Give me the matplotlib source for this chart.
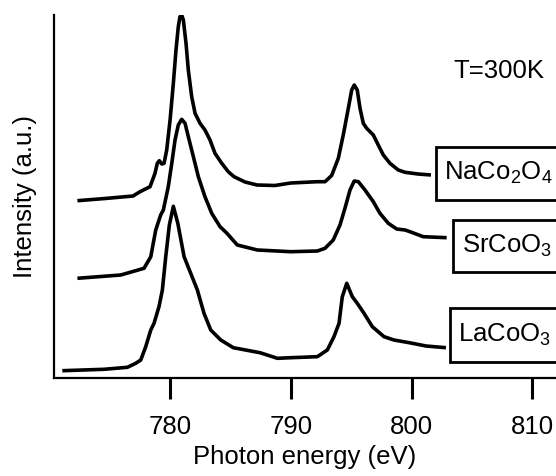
import matplotlib
matplotlib.use('Agg')
import matplotlib.pyplot as plt
from matplotlib.patches import Rectangle

plt.rcParams['font.family'] = ['Liberation Sans', 'DejaVu Sans']
plt.rcParams['mathtext.fontset'] = 'custom'
plt.rcParams['mathtext.rm'] = 'Liberation Sans'
plt.rcParams['mathtext.default'] = 'regular'

# Spectra (photon energy in eV, intensity in arbitrary units incl. offset)
na_energy = [772.30, 774.59, 776.91, 777.49, 778.32, 778.73, 778.92, 779.09, 779.29, 779.48,
             779.70, 779.98, 780.25, 780.47, 780.66, 780.80, 780.94, 781.08, 781.30, 781.49,
             781.77, 782.05, 782.46, 782.87, 783.29, 783.70, 784.26, 784.80, 785.28, 786.19,
             787.18, 788.67, 789.98, 792.18, 792.82, 793.37, 793.92, 794.33, 794.75, 795.03,
             795.24, 795.49, 795.72, 795.99, 796.27, 796.82, 797.23, 797.65, 798.20, 798.89,
             799.45, 800.52, 801.60]
na_intensity = [177.3, 179.5, 182.0, 186.3, 191.3, 204.7, 214.7, 217.3, 214.0, 214.7,
                228.0, 258.0, 294.7, 328.0, 351.3, 361.3, 363.0, 358.0, 334.7, 308.0,
                281.3, 264.7, 254.7, 248.0, 238.0, 224.7, 214.7, 206.3, 201.3, 196.0,
                193.0, 192.5, 195.0, 196.3, 196.3, 202.5, 219.7, 243.0, 269.7, 288.0,
                293.0, 288.0, 269.7, 254.7, 249.7, 243.0, 233.0, 223.0, 214.7, 208.0,
                205.7, 204.0, 203.0]

sr_energy = [772.30, 775.89, 777.82, 778.38, 778.79, 779.20, 779.42, 779.83, 780.12, 780.39,
             780.66, 780.94, 781.22, 781.49, 781.91, 782.32, 782.87, 783.43, 784.12, 784.67,
             785.55, 787.21, 789.98, 792.18, 792.82, 793.50, 794.06, 794.47, 794.89, 795.24,
             795.58, 796.13, 796.82, 797.37, 798.06, 798.76, 799.45, 799.86, 800.96, 802.90]
sr_intensity = [99.7, 103.0, 109.7, 121.3, 148.0, 163.0, 168.0, 191.3, 214.7, 238.0,
                253.0, 258.7, 254.7, 241.3, 221.3, 201.3, 181.3, 164.7, 151.3, 145.0,
                133.0, 128.0, 126.3, 127.0, 129.7, 138.0, 153.0, 169.7, 188.0, 197.0,
                196.3, 188.0, 176.3, 164.7, 154.7, 149.0, 148.0, 146.3, 141.3, 140.3]

la_energy = [771.05, 774.51, 776.44, 777.13, 777.55, 777.96, 778.38, 778.65, 779.06, 779.34,
             779.62, 779.92, 780.25, 780.62, 781.14, 781.69, 782.24, 782.79, 783.35, 784.18,
             785.22, 787.43, 788.87, 789.98, 792.18, 793.01, 793.56, 793.98, 794.25, 794.62,
             795.08, 795.49, 796.05, 796.74, 797.71, 798.53, 799.80, 801.19, 802.84]
la_intensity = [7.3, 8.7, 10.7, 14.7, 18.0, 31.3, 48.0, 54.7, 71.3, 88.0,
                121.3, 153.0, 171.7, 154.7, 121.3, 104.7, 88.0, 64.7, 48.0, 38.0,
                30.3, 25.3, 19.7, 20.3, 21.3, 28.0, 41.3, 54.7, 81.3, 94.7,
                81.3, 74.7, 64.7, 51.3, 41.3, 38.0, 35.3, 32.0, 30.3]

labels = ['NaCo$_2$O$_4$', 'SrCoO$_3$', 'LaCoO$_3$']
label_x = [802.68, 804.14, 803.86]
label_y = [204.7, 132.2, 43.0]
box_left = [802.01, 803.45, 803.17]
box_bottom = [178.0, 106.3, 16.3]
box_top = [231.3, 158.0, 69.7]
xticks = [780, 790, 800, 810]

fig = plt.figure(figsize=(5.56, 4.76), dpi=100)
ax = fig.add_axes([54 / 556, 98 / 476, 502 / 556, 363 / 476])

for e, i in [(na_energy, na_intensity), (sr_energy, sr_intensity), (la_energy, la_intensity)]:
    ax.plot(e, i, color='black', linewidth=2.6, solid_joinstyle='round', solid_capstyle='butt')

ax.set_xlim(770.36, 811.96)
ax.set_ylim(0, 363)

for side in ['top', 'right']:
    ax.spines[side].set_visible(False)
for side in ['left', 'bottom']:
    ax.spines[side].set_linewidth(1.6)

ax.set_xticks(xticks)
ax.set_yticks([])
ax.tick_params(axis='x', direction='out', length=15, width=2.2, pad=12, labelsize=18.5)

ax.set_xlabel('Photon energy (eV)', fontsize=18.5, labelpad=4)
ax.set_ylabel('Intensity (a.u.)', fontsize=18.5, labelpad=12)

# label boxes run off the right edge of the figure
for text, x, y, bl, bb, bt in zip(labels, label_x, label_y, box_left, box_bottom, box_top):
    ax.add_patch(Rectangle((bl, bb), 815 - bl, bt - bb, facecolor='white', edgecolor='black',
                           linewidth=2, clip_on=False))
    ax.text(x, y, text, fontsize=18.5, ha='left', va='center')

ax.text(807.23, 307, 'T=300K', fontsize=18.5, ha='center', va='center')

fig.savefig('out.png', dpi=100)
